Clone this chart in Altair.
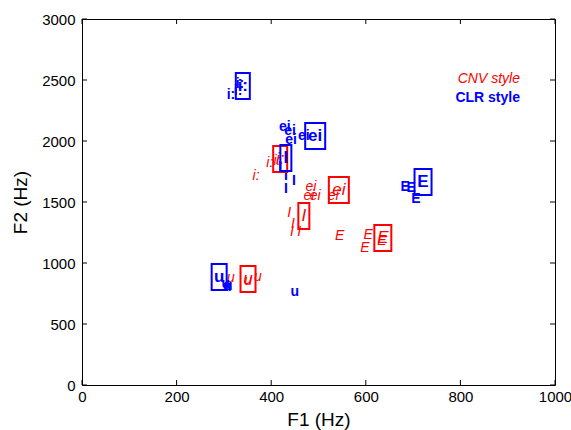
import altair as alt
import pandas as pd

# Individual vowel tokens, CNV style (red, italic)
cnv_label = ["i:", "i:", "i:",
             "ei", "ei", "ei", "ei",
             "I", "I", "I", "I",
             "E", "E", "E", "E",
             "u", "u", "u"]
cnv_f1 = [368, 397, 412,
          484, 480, 493, 531,
          438, 446, 444, 459,
          545, 605, 598, 634,
          315, 372, 351]
cnv_f2 = [1713, 1820, 1836,
          1623, 1549, 1549, 1549,
          1410, 1320, 1254, 1254,
          1221, 1230, 1123, 1180,
          877, 885, 852]

# Individual vowel tokens, CLR style (blue, bold)
clr_label = ["i:", "i:", "i:",
             "ei", "ei", "ei", "ei",
             "I", "I", "I", "I",
             "E", "E", "E",
             "u", "u", "u", "u"]
clr_f1 = [315, 330, 334,
          429, 440, 442, 469,
          419, 431, 448, 431,
          683, 696, 706,
          304, 307, 309, 450]
clr_f2 = [2377, 2410, 2467,
          2115, 2082, 2008, 2041,
          1787, 1713, 1672, 1607,
          1623, 1615, 1525,
          828, 803, 815, 762]

# Vowel means (drawn larger, boxed)
mean_label = ["i:", "ei", "I", "E", "u"]
cnv_mean_f1 = [419, 543, 469, 636, 351]
cnv_mean_f2 = [1852, 1598, 1385, 1205, 869]
clr_mean_f1 = [340, 493, 431, 721, 290]
clr_mean_f2 = [2451, 2041, 1861, 1664, 885]

x_ticks = [0, 200, 400, 600, 800, 1000]
y_ticks = [0, 500, 1000, 1500, 2000, 2500, 3000]

RED = "#ff0000"
BLUE = "#0000ff"
FONT = "Liberation Sans"
W, H = 473, 366

X = alt.X("F1:Q", title="F1 (Hz)",
          scale=alt.Scale(domain=[0, 1000], nice=False),
          axis=alt.Axis(values=x_ticks, format="d", ticks=False, tickSize=0,
                        domain=False, grid=False, labelFlush=False,
                        labelPadding=4, titlePadding=6))
Y = alt.Y("F2:Q", title="F2 (Hz)",
          scale=alt.Scale(domain=[0, 3000], nice=False),
          axis=alt.Axis(values=y_ticks, format="d", ticks=False, tickSize=0,
                        domain=False, grid=False, labelFlush=False,
                        labelPadding=7, titlePadding=11))

cnv = pd.DataFrame({"F1": cnv_f1, "F2": cnv_f2, "label": cnv_label})
clr = pd.DataFrame({"F1": clr_f1, "F2": clr_f2, "label": clr_label})
cnv_mean = pd.DataFrame({"F1": cnv_mean_f1, "F2": cnv_mean_f2, "label": mean_label})
clr_mean = pd.DataFrame({"F1": clr_mean_f1, "F2": clr_mean_f2, "label": mean_label})

# box widths (pixels) around each mean label
box_w = {"i:": 14, "ei": 20, "I": 11, "E": 17, "u": 15}

layers = []

cnv_tokens = alt.Chart(cnv).mark_text(
    color=RED, font=FONT, fontSize=14, fontStyle="italic",
    align="center", baseline="middle"
).encode(x=X, y=Y, text="label:N")
clr_tokens = alt.Chart(clr).mark_text(
    color=BLUE, font=FONT, fontSize=14, fontWeight="bold",
    align="center", baseline="middle"
).encode(x=X, y=Y, text="label:N")
layers += [cnv_tokens, clr_tokens]

for df, color, style in [(cnv_mean, RED, {"fontStyle": "italic"}),
                         (clr_mean, BLUE, {"fontWeight": "bold"})]:
    layers.append(
        alt.Chart(df).mark_text(color=color, font=FONT, fontSize=17,
                                align="center", baseline="middle", **style)
        .encode(x=X, y=Y, text="label:N")
    )
    for lab in mean_label:
        w = box_w[lab]
        layers.append(
            alt.Chart(df[df["label"] == lab]).mark_rect(
                filled=False, stroke=color, strokeWidth=2,
                xOffset=-w / 2, x2Offset=w / 2, yOffset=-13, y2Offset=13
            ).encode(x=X, x2="F1:Q", y=Y, y2="F2:Q")
        )

# style key
key = pd.DataFrame({"F1": [926, 926], "F2": [2508, 2352],
                    "label": ["CNV style", "CLR style"]})
layers.append(
    alt.Chart(key.iloc[[0]]).mark_text(color=RED, font=FONT, fontSize=14,
                                       fontStyle="italic", align="right",
                                       baseline="middle")
    .encode(x=X, y=Y, text="label:N")
)
layers.append(
    alt.Chart(key.iloc[[1]]).mark_text(color=BLUE, font=FONT, fontSize=14,
                                       fontWeight="bold", align="right",
                                       baseline="middle")
    .encode(x=X, y=Y, text="label:N")
)

# inward tick marks on all four sides
xt = pd.DataFrame({"F1": x_ticks})
yt = pd.DataFrame({"F2": y_ticks})
TL = 5
layers += [
    alt.Chart(xt).mark_rule(color="black", strokeWidth=1)
    .encode(x=X, y=alt.value(H), y2=alt.value(H - TL)),
    alt.Chart(xt).mark_rule(color="black", strokeWidth=1)
    .encode(x=X, y=alt.value(0), y2=alt.value(TL)),
    alt.Chart(yt).mark_rule(color="black", strokeWidth=1)
    .encode(y=Y, x=alt.value(0), x2=alt.value(TL)),
    alt.Chart(yt).mark_rule(color="black", strokeWidth=1)
    .encode(y=Y, x=alt.value(W), x2=alt.value(W - TL)),
]

chart = alt.layer(*layers).properties(
    width=W, height=H,
    autosize=alt.AutoSizeParams(type="none"),
    padding={"left": 82, "top": 19, "right": 16, "bottom": 45},
    background="white",
).configure_view(
    stroke="black", strokeWidth=1
).configure_axis(
    labelFont=FONT, labelFontSize=15, labelColor="black",
    titleFont=FONT, titleFontSize=19, titleFontWeight="normal",
    titleColor="black",
)

chart.save("out.html", embed_options={"renderer": "svg", "actions": False})
